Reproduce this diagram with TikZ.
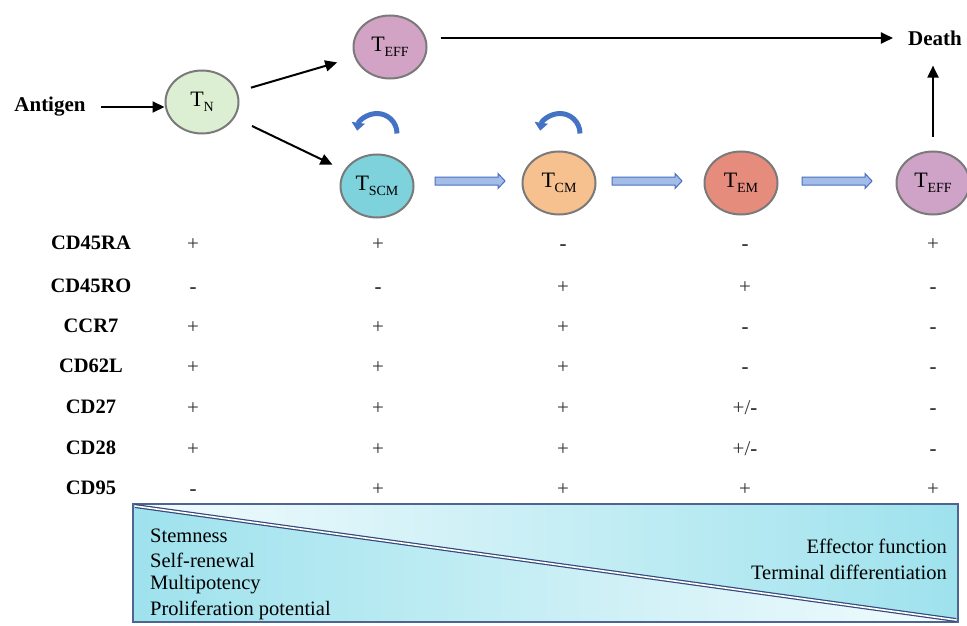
\documentclass[tikz,border=0pt]{standalone}
\usepackage{fontspec}
\setmainfont{Liberation Serif}
\usetikzlibrary{arrows.meta,shapes.geometric,calc}
\definecolor{tnfill}{HTML}{DCEFD2}
\definecolor{efffill}{HTML}{D3A3C5}
\definecolor{scmfill}{HTML}{7DD2DB}
\definecolor{cmfill}{HTML}{F6C08F}
\definecolor{emfill}{HTML}{E58C7D}
\definecolor{efftwofill}{HTML}{CFA2C8}
\definecolor{cellborder}{HTML}{7A7A7A}
\definecolor{loopblue}{HTML}{4472C4}
\definecolor{barfill}{HTML}{A3BDE8}
\definecolor{barline}{HTML}{4A6FBF}
\definecolor{boxcyan}{HTML}{9EE2ED}
\definecolor{boxlight}{HTML}{F2FBFD}
\definecolor{boxline}{HTML}{4F6490}
\definecolor{diagline}{HTML}{34467A}
\definecolor{valgray}{HTML}{333333}
\newcommand{\Tc}[1]{T\kern-0.3pt\raisebox{-4.5pt}{\fontsize{14}{14}\selectfont #1}}
\newcommand{\mn}{\textbf{-}}
\newcommand{\blockarr}[2]{\draw[barrow] let \p1=(#1), \p2=(#2) in
  (\x1,{\y1+4pt}) -- ({\x2-7pt},{\y1+4pt}) -- ({\x2-7pt},{\y1+7.5pt}) -- (\x2,\y1)
  -- ({\x2-7pt},{\y1-7.5pt}) -- ({\x2-7pt},{\y1-4pt}) -- (\x1,{\y1-4pt}) -- cycle;}
\tikzset{
  cell/.style={ellipse, draw=cellborder, line width=2pt, minimum width=73pt, minimum height=63pt, inner sep=0pt,
    font=\fontsize{22}{22}\selectfont},
  lbl/.style={font=\fontsize{20.5}{24}\selectfont\bfseries, inner sep=0pt},
  val/.style={font=\fontsize{21}{24}\selectfont, text=valgray, inner sep=0pt, anchor=base},
  txt/.style={font=\fontsize{20.5}{24}\selectfont, inner sep=0pt},
  arr/.style={line width=2pt, -{Triangle[length=12pt,width=11pt]}},
  barrow/.style={draw=barline, fill=barfill, line width=1pt},
  selfloop/.style={loopblue, line width=5pt, -{Triangle[length=8pt,width=13pt]}}
}
\begin{document}
\begin{tikzpicture}[x=1pt,y=-1pt]
\useasboundingbox (0,0) rectangle (967,626);
% cells
\node[cell, fill=tnfill] (tn) at (202,102) {\Tc{N}};
\node[cell, fill=efffill] (eff1) at (390,47) {\Tc{EFF}};
\node[cell, fill=scmfill] (scm) at (377,186) {\Tc{SCM}};
\node[cell, fill=cmfill] (cm) at (559,183) {\Tc{CM}};
\node[cell, fill=emfill] (em) at (741,183) {\Tc{EM}};
\node[cell, fill=efftwofill] (eff2) at (933,183) {\Tc{EFF}};
\node[lbl, font=\fontsize{21}{24}\selectfont\bfseries] (antigen) at (50,107) {Antigen};
\node[lbl, font=\fontsize{21}{24}\selectfont\bfseries] (death) at (935,38) {Death};
% black arrows
\draw[arr, shorten <=15pt] (antigen.east) -- (antigen.east -| tn.west);
\draw[arr, shorten <=14pt, shorten >=18pt] (tn) -- (eff1);
\draw[arr, shorten <=19pt, shorten >=13pt] (tn) -- (scm);
\draw[arr] ([xshift=13pt]eff1.east |- death.west) -- ([xshift=-15pt]death.west);
\draw[arr] ([yshift=14pt]eff2.north) -- ([yshift=-20pt]death.south -| eff2.north);
% self-renewal loops
\draw[selfloop] ([shift={(20pt,20pt)}]scm.north) arc[start angle=0, end angle=172, radius=20pt];
\draw[selfloop] ([shift={(21pt,17pt)}]cm.north) arc[start angle=0, end angle=172, radius=20pt];
% block arrows
\coordinate (b1s) at (435,181); \coordinate (b1e) at (505,181);
\coordinate (b2s) at (612,181); \coordinate (b2e) at (682,181);
\coordinate (b3s) at (802,181); \coordinate (b3e) at (872,181);
\blockarr{b1s}{b1e}
\blockarr{b2s}{b2e}
\blockarr{b3s}{b3e}
% table
\foreach \name/\yy/\a/\b/\c/\d/\e [count=\i] in {
  CD45RA/243/+/+/\mn/\mn/+,
  CD45RO/286/\mn/\mn/+/+/\mn,
  CCR7/326/+/+/+/\mn/\mn,
  CD62L/366/+/+/+/\mn/\mn,
  CD27/407/+/+/+/{+/\mn}/\mn,
  CD28/448/+/+/+/{+/\mn}/\mn,
  CD95/488/\mn/+/+/+/+}{
  \node[lbl] (r\i) at (91,\yy) {\name};
  \node[val] (r\i c1) at (193,\yy+7) {\a};
  \node[val] (r\i c2) at (378,\yy+7) {\b};
  \node[val] (r\i c3) at (563,\yy+7) {\c};
  \node[val] (r\i c4) at (745,\yy+7) {\d};
  \node[val] (r\i c5) at (933,\yy+7) {\e};
}
% gradient box
\begin{scope}
\clip (133,504) -- (958,504) -- (958,622) -- cycle;
\shade[left color=boxlight, right color=boxcyan] (133,504) rectangle (958,622);
\end{scope}
\begin{scope}
\clip (133,504) -- (133,622) -- (958,622) -- cycle;
\shade[left color=boxcyan, right color=boxlight] (133,504) rectangle (958,622);
\end{scope}
\draw[boxline, line width=1.5pt] (133,504) rectangle (958,622);
\draw[diagline, line width=1.2pt, double=white, double distance=1.6pt] (135,506) -- (956,620);
\node[txt, anchor=west] (t1) at (150,536) {Stemness};
\node[txt, anchor=west] (t2) at (150,560) {Self-renewal};
\node[txt, anchor=west] (t3) at (150,585) {Multipotency};
\node[txt, anchor=west] (t4) at (150,610) {Proliferation potential};
\node[txt, anchor=east] (t5) at (947,546) {Effector function};
\node[txt, anchor=east] (t6) at (947,572) {Terminal differentiation};
\end{tikzpicture}
\end{document}
